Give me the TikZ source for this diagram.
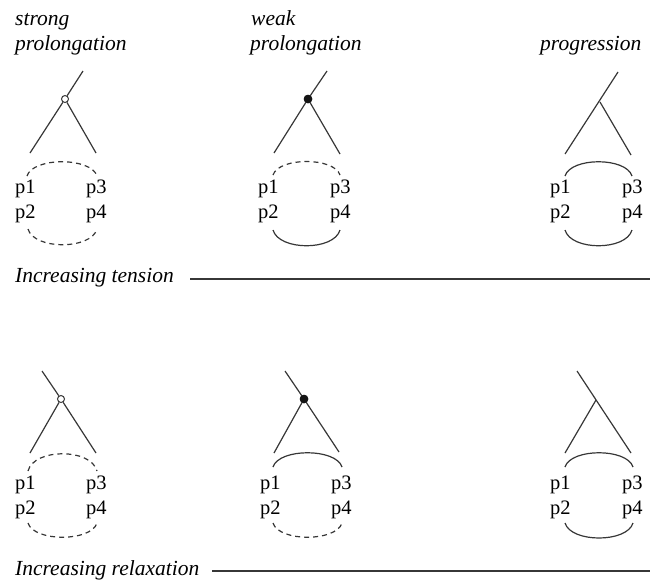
\documentclass[tikz,border=0pt]{standalone}
\usepackage{fontspec}
\setmainfont{Liberation Serif}
\begin{document}
\begin{tikzpicture}[x=1pt,y=-1pt,
  ink/.style={draw={rgb,255:red,55;green,55;blue,55}},
  br/.style={ink, line width=1.2pt},
  dsh/.style={br, dash pattern=on 5pt off 4pt},
  lab/.style={anchor=base west, inner sep=0pt, font=\fontsize{20.5}{24}\selectfont},
  ttl/.style={anchor=base west, inner sep=0pt, font=\fontsize{21.5}{25}\selectfont\itshape},
  opendot/.style={circle, ink, fill=white, line width=1pt, inner sep=0pt, minimum size=7pt},
  fulldot/.style={circle, fill={rgb,255:red,20;green,20;blue,20}, inner sep=0pt, minimum size=8.5pt}]
\useasboundingbox (0,0) rectangle (650,581);

% ---------- titles ----------
\node[ttl] (tA1) at (15,25) {strong};
\node[ttl] (tA2) at (15,50) {prolongation};
\node[ttl] (tB1) at (251,25) {weak};
\node[ttl] (tB2) at (250,50) {prolongation};
\node[ttl] (tC) at (540,50) {progression};

% ---------- panel 1: strong prolongation (top) ----------
\coordinate (a-top) at (83,71);
\coordinate (a-l) at (30,153);
\coordinate (a-r) at (96,153);
\node[opendot] (a-n) at (65,99) {};
\draw[br] (a-top) -- (a-n);
\draw[br] (a-n) -- (a-l);
\draw[br] (a-n) -- (a-r);
\node[lab] (a-p1) at (15,193) {p1};
\node[lab] (a-p3) at (86,193) {p3};
\node[lab] (a-p2) at (15,218) {p2};
\node[lab] (a-p4) at (86,218) {p4};
\coordinate (a-u1) at (27,176); \coordinate (a-u2) at (97,176);
\coordinate (a-d1) at (28,229); \coordinate (a-d2) at (97,229);
\draw[dsh] (a-u1) .. controls (33,157) and (91,157) .. (a-u2);
\draw[dsh] (a-d1) .. controls (34,250) and (91,250) .. (a-d2);

% ---------- panel 2: weak prolongation (top) ----------
\coordinate (b-top) at (327,71);
\coordinate (b-l) at (274,153);
\coordinate (b-r) at (340,154);
\node[fulldot] (b-n) at (308,99) {};
\draw[br] (b-top) -- (b-n.center);
\draw[br] (b-n.center) -- (b-l);
\draw[br] (b-n.center) -- (b-r);
\node[fulldot] at (b-n) {};
\node[lab] (b-p1) at (258,193) {p1};
\node[lab] (b-p3) at (330,193) {p3};
\node[lab] (b-p2) at (258,218) {p2};
\node[lab] (b-p4) at (330,218) {p4};
\coordinate (b-u1) at (273,175); \coordinate (b-u2) at (340,175);
\coordinate (b-d1) at (273,230); \coordinate (b-d2) at (340,230);
\draw[dsh] (b-u1) .. controls (279,157) and (334,157) .. (b-u2);
\draw[br] (b-d1) .. controls (279,251) and (334,251) .. (b-d2);

% ---------- panel 3: progression (top) ----------
\coordinate (c-top) at (618,72);
\coordinate (c-n) at (600,102);
\coordinate (c-l) at (565,154);
\coordinate (c-r) at (631,155);
\draw[br] (c-top) -- (c-l);
\draw[br] (c-n) -- (c-r);
\node[lab] (c-p1) at (550,193) {p1};
\node[lab] (c-p3) at (622,193) {p3};
\node[lab] (c-p2) at (550,218) {p2};
\node[lab] (c-p4) at (622,218) {p4};
\coordinate (c-u1) at (565,176); \coordinate (c-u2) at (632,176);
\coordinate (c-d1) at (565,230); \coordinate (c-d2) at (632,230);
\draw[br] (c-u1) .. controls (571,157) and (626,157) .. (c-u2);
\draw[br] (c-d1) .. controls (571,251) and (626,251) .. (c-d2);

% ---------- tension axis ----------
\node[ttl] (tens) at (15,282) {Increasing tension};
\coordinate (tens-end) at (650,279);
\draw[br] (190,279) -- (tens-end);

% ---------- panel 4: strong prolongation (bottom) ----------
\coordinate (d-top) at (42,371);
\coordinate (d-l) at (30,453);
\coordinate (d-r) at (96,453);
\node[opendot] (d-n) at (61,399) {};
\draw[br] (d-top) -- (d-n);
\draw[br] (d-n) -- (d-l);
\draw[br] (d-n) -- (d-r);
\node[lab] (d-p1) at (15,489) {p1};
\node[lab] (d-p3) at (86,489) {p3};
\node[lab] (d-p2) at (15,514) {p2};
\node[lab] (d-p4) at (86,514) {p4};
\coordinate (d-u1) at (28,471); \coordinate (d-u2) at (97,471);
\coordinate (d-d1) at (28,523); \coordinate (d-d2) at (97,523);
\draw[dsh] (d-u1) .. controls (34,448) and (91,448) .. (d-u2);
\draw[dsh] (d-d1) .. controls (34,542) and (91,542) .. (d-d2);

% ---------- panel 5: weak prolongation (bottom) ----------
\coordinate (e-top) at (285,371);
\coordinate (e-l) at (274,453);
\coordinate (e-r) at (339,452);
\node[fulldot] (e-n) at (304,399) {};
\draw[br] (e-top) -- (e-n.center);
\draw[br] (e-n.center) -- (e-l);
\draw[br] (e-n.center) -- (e-r);
\node[fulldot] at (e-n) {};
\node[lab] (e-p1) at (260,489) {p1};
\node[lab] (e-p3) at (331,489) {p3};
\node[lab] (e-p2) at (260,514) {p2};
\node[lab] (e-p4) at (331,514) {p4};
\coordinate (e-u1) at (273,467); \coordinate (e-u2) at (342,467);
\coordinate (e-d1) at (273,523); \coordinate (e-d2) at (342,523);
\draw[br] (e-u1) .. controls (279,448) and (336,448) .. (e-u2);
\draw[dsh] (e-d1) .. controls (279,542) and (336,542) .. (e-d2);

% ---------- panel 6: progression (bottom) ----------
\coordinate (f-top) at (577,371);
\coordinate (f-n) at (596,400);
\coordinate (f-l) at (565,453);
\coordinate (f-r) at (631,453);
\draw[br] (f-top) -- (f-r);
\draw[br] (f-n) -- (f-l);
\node[lab] (f-p1) at (550,489) {p1};
\node[lab] (f-p3) at (622,489) {p3};
\node[lab] (f-p2) at (550,514) {p2};
\node[lab] (f-p4) at (622,514) {p4};
\coordinate (f-u1) at (565,467); \coordinate (f-u2) at (633,467);
\coordinate (f-d1) at (565,523); \coordinate (f-d2) at (633,523);
\draw[br] (f-u1) .. controls (571,448) and (627,448) .. (f-u2);
\draw[br] (f-d1) .. controls (571,543) and (627,543) .. (f-d2);

% ---------- relaxation axis ----------
\node[ttl] (relx) at (15,575) {Increasing relaxation};
\coordinate (relx-end) at (650,571);
\draw[br] (212,571) -- (relx-end);
\end{tikzpicture}
\end{document}
